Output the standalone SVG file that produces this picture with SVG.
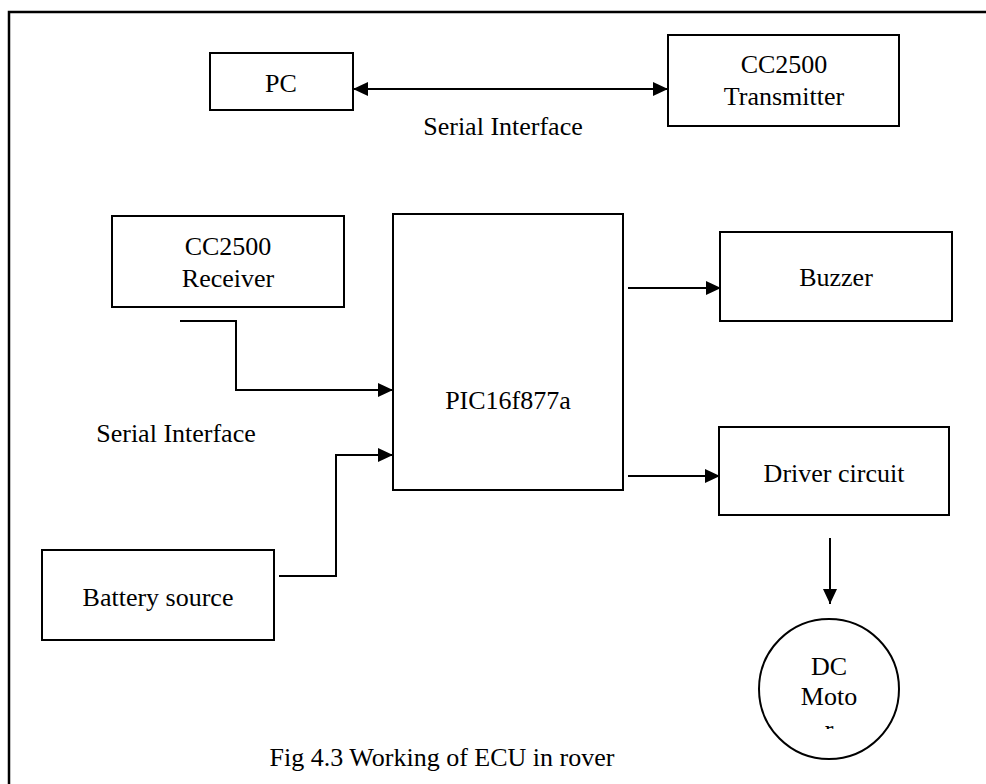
<svg xmlns="http://www.w3.org/2000/svg" width="986" height="784" viewBox="0 0 986 784">
<style>
.box{fill:#fff;stroke:#000;stroke-width:2}
.t{font-family:"Liberation Serif","Times New Roman",serif;font-size:26px;fill:#000;text-anchor:middle}
.c{fill:none;stroke:#000;stroke-width:2}
</style>
<defs>
<marker id="ah" markerUnits="userSpaceOnUse" markerWidth="16" markerHeight="14" viewBox="0 0 16 14" refX="15" refY="7" orient="auto-start-reverse">
<path d="M0,0 L15,7 L0,14 z" fill="#000"/>
</marker>
<clipPath id="rclip"><rect x="815" y="723" width="30" height="6"/></clipPath>
</defs>
<rect width="986" height="784" fill="#fff"/>
<path d="M9,784 V12 H986" fill="none" stroke="#000" stroke-width="2.5"/>

<g id="pc"><rect class="box" x="210" y="53" width="143" height="57"/><text class="t" x="281" y="92">PC</text></g>
<g id="transmitter"><rect class="box" x="668" y="35" width="231" height="91"/><text class="t" x="784" y="73">CC2500</text><text class="t" x="784" y="105">Transmitter</text></g>
<g id="receiver"><rect class="box" x="112" y="216" width="232" height="91"/><text class="t" x="228" y="255">CC2500</text><text class="t" x="228" y="287">Receiver</text></g>
<g id="pic"><rect class="box" x="393" y="214" width="230" height="276"/><text class="t" x="508" y="409">PIC16f877a</text></g>
<g id="buzzer"><rect class="box" x="720" y="232" width="232" height="89"/><text class="t" x="836" y="286">Buzzer</text></g>
<g id="driver"><rect class="box" x="719" y="427" width="230" height="88"/><text class="t" x="834" y="482">Driver circuit</text></g>
<g id="battery"><rect class="box" x="42" y="550" width="232" height="90"/><text class="t" x="158" y="606">Battery source</text></g>
<g id="motor"><circle class="box" cx="829" cy="689" r="70"/><text class="t" x="829" y="675">DC</text><text class="t" x="829" y="705">Moto</text><text class="t" x="829" y="738" clip-path="url(#rclip)">r</text></g>

<g id="connectors">
<line class="c" x1="353" y1="89" x2="668" y2="89" marker-start="url(#ah)" marker-end="url(#ah)"/>
<polyline class="c" points="180,321 236,321 236,390 393,390" marker-end="url(#ah)"/>
<polyline class="c" points="279,576 336,576 336,455 393,455" marker-end="url(#ah)"/>
<line class="c" x1="628" y1="288" x2="721" y2="288" marker-end="url(#ah)"/>
<line class="c" x1="628" y1="476" x2="720" y2="476" marker-end="url(#ah)"/>
<line class="c" x1="830" y1="538" x2="830" y2="604" marker-end="url(#ah)"/>
</g>

<g id="labels">
<text class="t" x="503" y="135">Serial Interface</text>
<text class="t" x="176" y="442">Serial Interface</text>
<text class="t" x="442" y="766">Fig 4.3 Working of ECU in rover</text>
</g>
</svg>
